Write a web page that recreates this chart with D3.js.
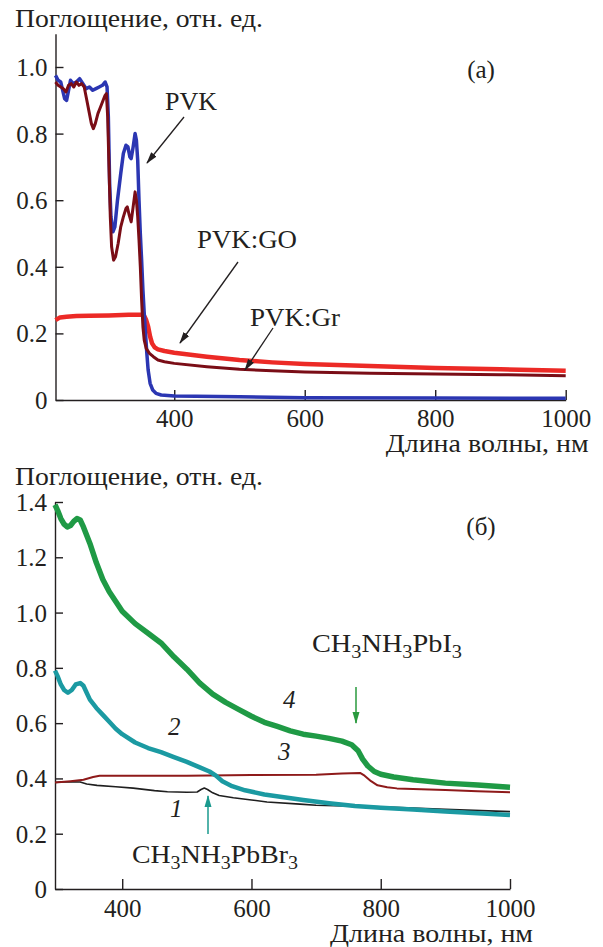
<!DOCTYPE html>
<html>
<head>
<meta charset="utf-8">
<script src="https://cdn.jsdelivr.net/npm/d3@7"></script>
<style>
  body { margin: 0; background: #fff; }
</style>
</head>
<body>
<svg id="chart" width="603" height="947"></svg>
<script>
// ---- panel (a): absorbance of PVK films, [wavelength nm, absorbance]
const pvk = [[218,0.975],[222,0.96],[226,0.955],[229,0.93],[232,0.905],[235,0.9],[238,0.93],[241,0.96],
  [245,0.95],[250,0.955],[255,0.965],[260,0.95],[265,0.935],[270,0.94],[275,0.93],[280,0.935],[285,0.94],
  [290,0.945],[294,0.955],[297,0.94],[299,0.85],[301,0.65],[303,0.55],[306,0.505],[309,0.52],[313,0.6],
  [318,0.68],[322,0.74],[326,0.765],[329,0.76],[332,0.73],[334,0.725],[337,0.76],[340,0.8],[342,0.78],
  [344,0.72],[346,0.6],[348,0.5],[350,0.42],[352,0.33],[354,0.26],[356,0.2],[358,0.14],[360,0.09],
  [363,0.05],[367,0.03],[372,0.02],[380,0.015],[400,0.012],[500,0.01],[600,0.007],[800,0.006],[1000,0.005]];
const pvkGr = [[218,0.955],[222,0.945],[226,0.94],[230,0.935],[234,0.925],[238,0.945],[242,0.95],[246,0.94],
  [250,0.955],[254,0.945],[258,0.95],[262,0.94],[266,0.9],[270,0.86],[273,0.83],[276,0.815],[279,0.83],
  [283,0.86],[287,0.88],[291,0.9],[294,0.915],[296,0.92],[298,0.85],[300,0.7],[302,0.55],[304,0.46],
  [307,0.42],[310,0.43],[314,0.47],[318,0.52],[322,0.55],[326,0.575],[328,0.58],[331,0.555],[334,0.535],
  [337,0.58],[340,0.625],[342,0.6],[344,0.55],[346,0.48],[348,0.4],[350,0.3],[352,0.22],[354,0.18],
  [357,0.155],[362,0.14],[368,0.13],[375,0.12],[385,0.115],[400,0.11],[450,0.1],[500,0.092],[550,0.088],
  [600,0.084],[700,0.08],[800,0.078],[900,0.076],[1000,0.073]];
const pvkGo = [[218,0.24],[225,0.248],[235,0.25],[250,0.252],[270,0.253],[300,0.254],[330,0.256],[350,0.256],
  [354,0.252],[357,0.24],[360,0.22],[363,0.19],[366,0.17],[370,0.158],[375,0.152],[385,0.147],[400,0.142],
  [450,0.13],[500,0.12],[550,0.113],[600,0.108],[700,0.102],[800,0.096],[900,0.092],[1000,0.088]];

// ---- panel (б): curves 1-4
const curve1 = [[296,0.385],[310,0.388],[335,0.387],[345,0.38],[361,0.375],[390,0.37],[417,0.365],[450,0.356],
  [470,0.352],[500,0.35],[516,0.351],[522,0.36],[527,0.365],[532,0.36],[540,0.348],[550,0.338],[572,0.33],
  [600,0.322],[624,0.315],[675,0.307],[700,0.303],[800,0.297],[900,0.288],[1000,0.28]];
const curve2 = [[296,0.79],[300,0.77],[305,0.74],[310,0.72],[316,0.71],[322,0.72],[328,0.74],[335,0.745],
  [340,0.735],[345,0.71],[350,0.685],[360,0.655],[370,0.63],[380,0.605],[390,0.58],[400,0.56],[420,0.53],
  [440,0.51],[460,0.495],[480,0.477],[500,0.46],[520,0.44],[535,0.425],[545,0.41],[555,0.39],[570,0.372],
  [590,0.357],[620,0.342],[650,0.332],[680,0.322],[720,0.31],[760,0.3],[800,0.294],[850,0.288],[900,0.28],
  [950,0.274],[1000,0.268]];
const curve3 = [[296,0.385],[320,0.39],[340,0.395],[355,0.405],[365,0.41],[400,0.41],[500,0.41],[600,0.412],
  [700,0.413],[740,0.418],[768,0.42],[775,0.41],[785,0.39],[795,0.375],[810,0.368],[825,0.364],[900,0.358],
  [950,0.354],[1000,0.35]];
const curve4 = [[296,1.39],[300,1.37],[305,1.34],[310,1.32],[315,1.31],[320,1.315],[325,1.33],[330,1.34],
  [335,1.335],[340,1.31],[345,1.28],[350,1.25],[360,1.18],[370,1.12],[380,1.075],[390,1.04],[400,1.005],
  [420,0.96],[440,0.925],[460,0.89],[480,0.84],[500,0.795],[520,0.745],[540,0.705],[560,0.675],[580,0.65],
  [600,0.625],[620,0.603],[640,0.588],[660,0.572],[680,0.56],[700,0.553],[720,0.545],[740,0.535],
  [755,0.522],[765,0.5],[772,0.47],[780,0.445],[790,0.425],[800,0.415],[820,0.405],[850,0.395],
  [900,0.383],[950,0.376],[1000,0.368]];

const xTicks = [400, 600, 800, 1000];
const yTicksA = [0, 0.2, 0.4, 0.6, 0.8, 1.0];
const yTicksB = [0, 0.2, 0.4, 0.6, 0.8, 1.0, 1.2, 1.4];
const yTitle = "Поглощение, отн. ед.";
const xTitle = "Длина волны, нм";

const FONT = "'Liberation Serif', 'Times New Roman', serif";
const INK = "#231f20";
const FS = 25;
const svg = d3.select("#chart");
const fmtY = d => d === 0 ? "0" : d3.format(".1f")(d);

// arrow heads
const defs = svg.append("defs");
[["arrBlack", INK], ["arrGreen", "#2a9a3e"], ["arrTeal", "#1a9a8e"]].forEach(([id, c]) => {
  defs.append("marker").attr("id", id)
    .attr("viewBox", "0 -4 12 8").attr("refX", 11).attr("refY", 0)
    .attr("markerUnits", "userSpaceOnUse").attr("markerWidth", 12).attr("markerHeight", 8)
    .attr("orient", "auto")
    .append("path").attr("d", "M0,-3.5L12,0L0,3.5Z").attr("fill", c);
});

// the original typeface is wider than Times, so long labels get stretched to their width
function txt(g, x, y, s, len) {
  const t = g.append("text").attr("x", x).attr("y", y)
    .style("font-family", FONT).style("font-size", FS + "px").attr("fill", INK).text(s);
  if (len) t.attr("textLength", len).attr("lengthAdjust", "spacingAndGlyphs");
  return t;
}

function drawPanel(cfg) {
  const x = d3.scaleLinear().domain(cfg.xDomain).range(cfg.xRange);
  const y = d3.scaleLinear().domain(cfg.yDomain).range(cfg.yRange);
  const g = svg.append("g");

  // axes (inward ticks)
  const xAxis = d3.axisBottom(x).tickValues(xTicks).tickFormat(d3.format("d"))
    .tickSize(-10).tickPadding(cfg.pad).tickSizeOuter(0);
  const gx = g.append("g").attr("transform", `translate(0,${cfg.yRange[0]})`).call(xAxis);
  const yAxis = d3.axisLeft(y).tickValues(cfg.yTicks).tickFormat(fmtY)
    .tickSize(-8).tickPadding(8).tickSizeOuter(0);
  const gy = g.append("g").attr("transform", `translate(${cfg.xRange[0]},0)`).call(yAxis);
  [gx, gy].forEach(a => {
    a.select(".domain").attr("stroke", INK).attr("stroke-width", 1.4);
    a.selectAll(".tick line").attr("stroke", INK).attr("stroke-width", 1.4);
    a.selectAll(".tick text").attr("fill", INK)
      .style("font-family", FONT).style("font-size", FS + "px");
  });
  gx.selectAll(".tick text").attr("dy", "0.71em");
  gy.selectAll(".tick text").attr("dy", "0.34em");

  const line = d3.line().x(d => x(d[0])).y(d => y(d[1]));
  cfg.series.forEach(s => {
    g.append("path").datum(s.data)
      .attr("fill", "none").attr("stroke", s.color).attr("stroke-width", s.width)
      .attr("stroke-linejoin", "round").attr("d", line);
  });

  txt(g, 15, cfg.yTitleY, yTitle, 248);
  txt(g, cfg.xRange[1] + 23, cfg.xTitleY, xTitle, 203).attr("text-anchor", "end");
  txt(g, 481, cfg.tagY, cfg.tag).attr("text-anchor", "middle");
  return g;
}

// panel (a)
const ga = drawPanel({
  xDomain: [218, 1000], xRange: [55.5, 565.7],
  yDomain: [0, 1.1], yRange: [400, 33.7], yTicks: yTicksA, pad: 9,
  yTitleY: 27, xTitleY: 452, tag: "(a)", tagY: 78,
  series: [
    { data: pvkGo, color: "#ec2a26", width: 4.5 },
    { data: pvk, color: "#2b36b2", width: 3.5 },
    { data: pvkGr, color: "#7a0d16", width: 3 }
  ]
});
const labelsA = [
  { t: "PVK", x: 165, y: 110, w: 52, ax: [184, 117, 147, 163] },
  { t: "PVK:GO", x: 197, y: 248, w: 100, ax: [238, 262, 180, 343] },
  { t: "PVK:Gr", x: 250, y: 326, w: 90, ax: [273, 328, 245, 370] }
];
labelsA.forEach(l => {
  txt(ga, l.x, l.y, l.t, l.w);
  ga.append("line").attr("x1", l.ax[0]).attr("y1", l.ax[1]).attr("x2", l.ax[2]).attr("y2", l.ax[3])
    .attr("stroke", INK).attr("stroke-width", 1.3).attr("marker-end", "url(#arrBlack)");
});

// panel (б)
const gb = drawPanel({
  xDomain: [296, 1000], xRange: [55, 510],
  yDomain: [0, 1.4], yRange: [889, 502], yTicks: yTicksB, pad: 10,
  yTitleY: 485, xTitleY: 942, tag: "(б)", tagY: 535,
  series: [
    { data: curve1, color: "#1f1f1f", width: 1.6 },
    { data: curve3, color: "#8e1a1a", width: 2 },
    { data: curve2, color: "#1b9aa2", width: 4.5 },
    { data: curve4, color: "#1f9a45", width: 5.5 }
  ]
});

function formula(g, x, y, parts, len) {
  const t = txt(g, x, y, null, len);
  parts.forEach(p => {
    if (p.sub) t.append("tspan").style("font-size", "18px").attr("dy", 6).text(p.s);
    else t.append("tspan").attr("dy", p.after ? -6 : 0).text(p.s);
  });
}
formula(gb, 312, 652, [{ s: "CH" }, { s: "3", sub: true }, { s: "NH", after: true }, { s: "3", sub: true },
  { s: "PbI", after: true }, { s: "3", sub: true }], 150);
formula(gb, 132, 863, [{ s: "CH" }, { s: "3", sub: true }, { s: "NH", after: true }, { s: "3", sub: true },
  { s: "PbBr", after: true }, { s: "3", sub: true }], 166);

gb.append("line").attr("x1", 356).attr("y1", 687).attr("x2", 356).attr("y2", 723)
  .attr("stroke", "#2a9a3e").attr("stroke-width", 1.5).attr("marker-end", "url(#arrGreen)");
gb.append("line").attr("x1", 208).attr("y1", 834).attr("x2", 208).attr("y2", 796)
  .attr("stroke", "#1a9a8e").attr("stroke-width", 1.5).attr("marker-end", "url(#arrTeal)");

const numLabels = [["1", 170, 817], ["2", 168, 735], ["3", 278, 760], ["4", 283, 708]];
numLabels.forEach(([t, x, y]) => {
  txt(gb, x, y, t).attr("font-style", "italic");
});
</script>
</body>
</html>
